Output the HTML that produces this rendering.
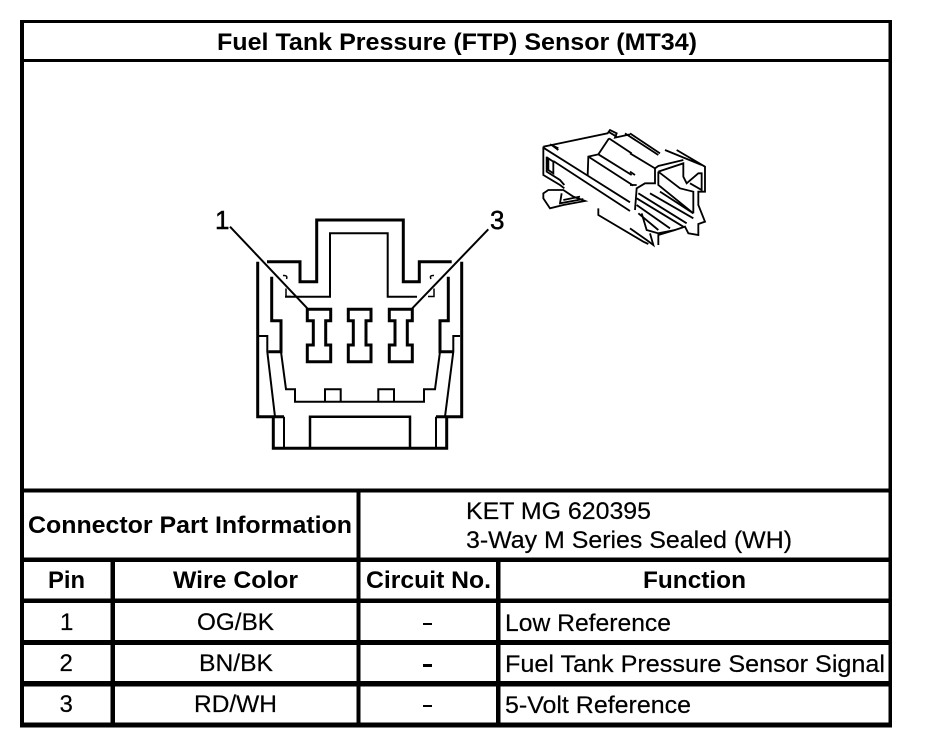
<!DOCTYPE html>
<html><head><meta charset="utf-8"><style>
html,body{margin:0;padding:0;background:#fff;width:928px;height:748px;overflow:hidden}
svg{display:block}
text{font-family:"Liberation Sans",sans-serif;fill:#000}
.b{font-weight:bold;font-size:24px}
.r{font-size:24px;stroke:#000;stroke-width:.2px}
</style></head><body>
<svg width="928" height="748" viewBox="0 0 928 748" xmlns="http://www.w3.org/2000/svg">
<rect width="928" height="748" fill="#fff"/>
<g fill="#000">
<rect x="20" y="20" width="872" height="3"/>
<rect x="20" y="59" width="872" height="3"/>
<rect x="20" y="488.500" width="872" height="4"/>
<rect x="20" y="557.500" width="872" height="4.500"/>
<rect x="20" y="598.500" width="872" height="4.500"/>
<rect x="20" y="640" width="872" height="5"/>
<rect x="20" y="681" width="872" height="5.500"/>
<rect x="20" y="722.500" width="872" height="5"/>
<rect x="20" y="20" width="4" height="707"/>
<rect x="888.500" y="20" width="3.500" height="707"/>
<rect x="110.500" y="558" width="4.500" height="168"/>
<rect x="356.500" y="490" width="4" height="236"/>
<rect x="496" y="558" width="4.500" height="168"/>
</g>
<text class="b" x="217" y="50" textLength="480" lengthAdjust="spacingAndGlyphs">Fuel Tank Pressure (FTP) Sensor (MT34)</text>
<text class="b" x="28" y="533" textLength="324" lengthAdjust="spacingAndGlyphs">Connector Part Information</text>
<text class="r" x="466" y="519" textLength="185" lengthAdjust="spacingAndGlyphs">KET MG 620395</text>
<text class="r" x="466" y="548" textLength="326" lengthAdjust="spacingAndGlyphs">3-Way M Series Sealed (WH)</text>
<text class="b" x="48" y="588" textLength="37" lengthAdjust="spacingAndGlyphs">Pin</text>
<text class="b" x="173" y="588" textLength="125" lengthAdjust="spacingAndGlyphs">Wire Color</text>
<text class="b" x="366" y="588" textLength="125" lengthAdjust="spacingAndGlyphs">Circuit No.</text>
<text class="b" x="643" y="588" textLength="103" lengthAdjust="spacingAndGlyphs">Function</text>
<text class="r" x="60" y="630">1</text>
<text class="r" x="197" y="630" textLength="77" lengthAdjust="spacingAndGlyphs">OG/BK</text>
<text class="r" x="59.500" y="671">2</text>
<text class="r" x="199" y="671" textLength="74" lengthAdjust="spacingAndGlyphs">BN/BK</text>
<text class="r" x="59.500" y="712">3</text>
<text class="r" x="194" y="712" textLength="83" lengthAdjust="spacingAndGlyphs">RD/WH</text>
<g fill="#000"><rect x="423" y="623" width="9" height="2"/><rect x="423" y="664" width="9" height="3"/><rect x="423" y="705" width="9" height="2"/></g>
<text class="r" x="505" y="631" textLength="166" lengthAdjust="spacingAndGlyphs">Low Reference</text>
<text class="r" x="505" y="672" textLength="380" lengthAdjust="spacingAndGlyphs">Fuel Tank Pressure Sensor Signal</text>
<text class="r" x="505" y="713" textLength="186" lengthAdjust="spacingAndGlyphs">5-Volt Reference</text>

<text x="215" y="229" style="font-size:26px;stroke:#000;stroke-width:.5px">1</text>
<text x="490" y="229" style="font-size:26px;stroke:#000;stroke-width:.5px">3</text>

<g fill="none" stroke="#000" stroke-linejoin="miter">
<g stroke-width="3">
<path d="M267 261.700H300V281.700H316.700V220H403.300V281.700H419.300V261.700H451.700"/>
<path d="M257.700 261.700V416.700H284M461.700 261.700V416.700H436"/>
<path d="M271.700 276.700V320.700H281V351.700H268.300M448.300 276.700V320.700H440V351.700H453.300"/>
<path d="M273.300 416.700V448.300H446.700V416.700"/>
<path d="M310 448.300V416.700H410V448.300" stroke-width="2.500"/>
<path d="M307.300 309.300H330.700V320.700H325.700V345H330.700V361.700H307.300V345H313.300V320.700H307.300Z"/>
<path d="M348.300 309.300H371V320.700H366V345H371V361.700H348.300V345H353.300V320.700H348.300Z"/>
<path d="M389.300 309.300H412.300V320.700H407.300V345H412.300V361.700H389.300V345H395V320.700H389.300Z"/>
</g>
<g stroke-width="2">
<path d="M285 296.700H330V233.300H387.700V296.700H417"/>
<path d="M281 351.700L286 389.300H295V401.700H424V389.300H435L440 351.700"/>
<path d="M259 336H267.300V351.700L275 416.700M460 336H453.300V351.700L445 416.700"/>
<path d="M325 401.700V389.300H340.700V401.700M378.300 401.700V389.300H394V401.700"/>
<path d="M284 416.700V448.300M436 416.700V448.300"/>
<path d="M230 226.700L307.300 308.300M488.300 229.300L412.300 308.300"/>
<path d="M283 275.500Q288 275 286.500 279M286 288.500V296.500H291M434 275.500Q429 275 431 279M434 288.500V296.500H428" stroke-width="1.500"/>
</g>
</g>

<!-- left half of iso connector -->
<g transform="translate(535 125) scale(.3333)" fill="none" stroke="#000" stroke-width="5.500">
<path d="M25 65L50 60L218 25L225 15L245 25L240 38L285 28"/>
<path d="M25 65V150L75 180L88 190"/>
<path d="M50 60L70 75M25 68L158 152"/>
<path d="M158 152L160 95L190 88L222 40"/>
<path d="M160 95L295 182M190 88L290 150M222 40L290 85"/>
<path d="M35 95V140L75 165L88 180"/>
<path d="M40 100L55 110V145L40 135Z"/>
<path d="M55 108L285 258M158 152L285 232"/>
<path d="M45 58L70 70M220 20L245 35"/>
</g>
<!-- latch and lower edge -->
<g transform="translate(530 125) scale(.3333)" fill="none" stroke="#000" stroke-width="5.500">
<path d="M40 205L55 195H100L130 215L165 228L100 240L60 250L40 220Z"/>
<path d="M95 205L90 235L160 222M100 225L150 215"/>
<path d="M205 250V270L340 350L355 357"/>
<path d="M285 25L385 90M300 25L390 85"/>
</g>
<!-- right half of iso connector -->
<g transform="translate(630 150) scale(.3333)" fill="none" stroke="#000" stroke-width="5.500">
<path d="M105 0L215 45M140 0L225 50V125H205V165L225 215L205 222V255L175 250L165 230L135 240L85 255V285"/>
<path d="M0 10L75 55V100L45 100L20 115L15 180M0 65L15 75M0 105H20"/>
<path d="M75 55L85 48L160 30"/>
<path d="M85 65L160 40V80L170 100L205 70H215V120L180 100M85 65V105L190 190M85 65L150 115L190 125V190"/>
<path d="M25 130L170 220M20 145L160 230M60 130L190 205M90 125L190 190M20 165L120 235M25 190L85 240"/>
<path d="M35 190L50 240L85 250L135 240"/>
<path d="M0 235L50 270L70 285L60 250"/>
</g>
</svg>
</body></html>
